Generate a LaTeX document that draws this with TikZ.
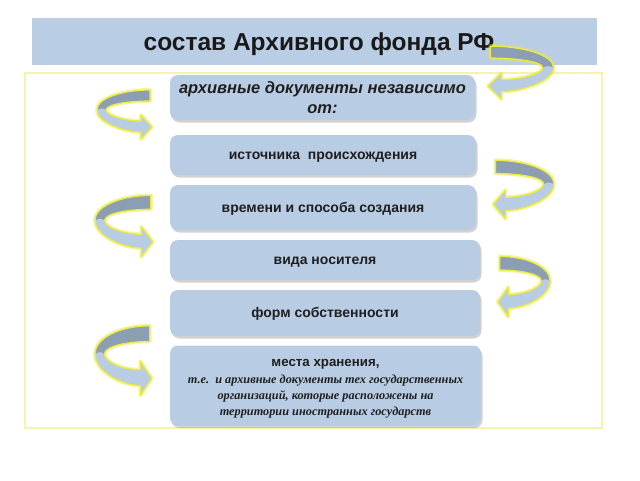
\documentclass[tikz,border=0pt]{standalone}
\usepackage{fontspec}
\setmainfont{Liberation Sans}
\newfontfamily\serifit{Liberation Serif}
\usetikzlibrary{shadows}
\definecolor{boxblue}{RGB}{184,204,228}
\definecolor{titleblue}{RGB}{185,205,229}
\definecolor{darkband}{RGB}{140,158,180}
\definecolor{glowy}{RGB}{235,235,60}
\definecolor{paley}{RGB}{244,244,170}
\newcommand\ita{\serifit\bfseries\itshape\fontsize{12.3}{17.5}\selectfont}
\newcommand\curlouter[1]{%
  \path[#1] (55,2) .. controls (28,2) and (2,10) .. (2,22)
    .. controls (2,34) and (28,44) .. (46,44)
    -- (46,51) -- (57,39) -- (46,27) -- (46,33)
    .. controls (30,33) and (12,28) .. (11,22)
    .. controls (11,16) and (35,13) .. (55,13) -- cycle;}
\newcommand\curldark[1]{%
  \path[#1] (55,2) .. controls (28,2) and (2,10) .. (2,22)
    .. controls (5,20) and (9,20) .. (11,22)
    .. controls (11,16) and (35,13) .. (55,13) -- cycle;}
\newcommand\curlarrow{%
  \curlouter{draw=glowy, line width=4pt, line join=round, draw opacity=0.45}
  \curlouter{fill=boxblue}
  \curldark{fill=darkband}
  \curlouter{draw=glowy, line width=1.2pt, line join=round}}
\tikzset{
  infobox/.style={fill=boxblue, rounded corners=8pt, align=center,
    text=black!88, inner sep=2pt,
    font=\bfseries\fontsize{14}{17}\selectfont,
    drop shadow={shadow xshift=1.5pt, shadow yshift=-2.5pt, opacity=0.35, fill=gray}},
  oneline/.style={text height=9pt, text depth=0pt},
  titlebar/.style={fill=titleblue, inner sep=0pt},
  frame/.style={draw=paley, line width=1.3pt}
}
\begin{document}
\begin{tikzpicture}[x=1pt,y=-1pt]
\useasboundingbox[fill=white] (0,0) rectangle (640,480);
% title bar
\node[titlebar, minimum width=565pt, minimum height=47pt] (title) at (314.5,41.5) {};
\node[font=\bfseries\fontsize{24.5}{28}\selectfont, text=black!90] (titletext) at (319,44.5) {состав Архивного фонда РФ};
% frame
\draw[frame] (25,73) rectangle (602,428);
% boxes
\node[infobox, minimum width=305pt, minimum height=45pt, font=\bfseries\itshape\fontsize{16.5}{20}\selectfont] (b1) at (322.5,97.5) {\rule{0pt}{13pt}архивные документы независимо\\от:};
\node[infobox, oneline, minimum width=306pt, minimum height=40pt] (b2) at (323,155) {источника\ \ происхождения};
\node[infobox, oneline, minimum width=306pt, minimum height=45pt] (b3) at (323,207.5) {времени и способа создания};
\node[infobox, oneline, minimum width=310pt, minimum height=40pt] (b4) at (325,260) {вида носителя};
\node[infobox, oneline, minimum width=310pt, minimum height=46pt] (b5) at (325,313) {форм собственности};
\node[infobox, minimum width=311pt, minimum height=80pt, font=\bfseries\fontsize{13.3}{16}\selectfont] (b6) at (325.5,385.5) {\rule{0pt}{14pt}места хранения,\\[1.5pt]
  \ita т.е.\ \ и архивные документы тех государственных\\
  \ita организаций, которые расположены на\\
  \ita территории иностранных государств};
% curly arrows, left side
\begin{scope}[shift={(95,88)}]\curlarrow\end{scope}
\begin{scope}[shift={(93,193)}, xscale=1.05, yscale=1.25]\curlarrow\end{scope}
\begin{scope}[shift={(93,323)}, xscale=1.03, yscale=1.42]\curlarrow\end{scope}
% curly arrows, right side
\begin{scope}[shift={(556,44)}, xscale=-1.19, yscale=1.08]\curlarrow\end{scope}
\begin{scope}[shift={(556,158)}, xscale=-1.1, yscale=1.19]\curlarrow\end{scope}
\begin{scope}[shift={(552,254)}, xscale=-0.95, yscale=1.23]\curlarrow\end{scope}
\end{tikzpicture}
\end{document}
